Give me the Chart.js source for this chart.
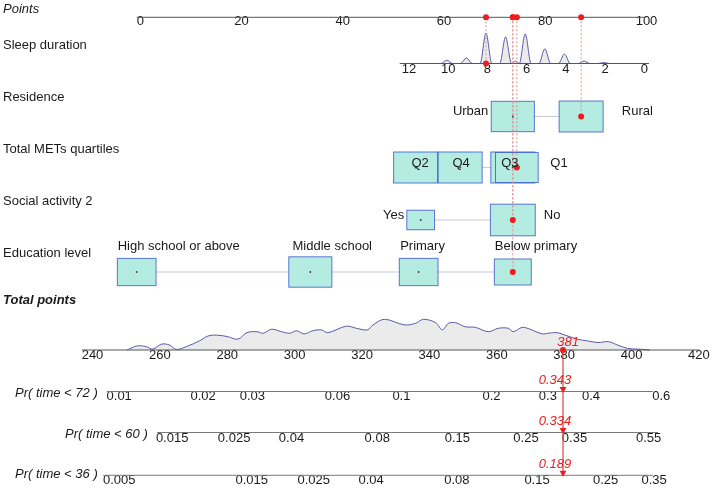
<!DOCTYPE html>
<html>
<head>
<meta charset="utf-8">
<script src="https://cdn.jsdelivr.net/npm/chart.js@4.4.1/dist/chart.umd.min.js"></script>
<style>
html,body{margin:0;padding:0;background:#ffffff;overflow:hidden;}
#wrap{position:relative;width:716px;height:489px;}
</style>
</head>
<body>
<div id="wrap"><canvas id="nomo"></canvas></div>
<script>
// ======================= DATA =======================
const POINT_TICKS = [0, 20, 40, 60, 80, 100];

const SLEEP_TICKS = [12, 10, 8, 6, 4, 2, 0];
const SLEEP_END_HOURS = [12, 0];
const SLEEP_END_POINTS = [53.5, 100];
const SLEEP_DENS_HOURS = [-0.3, 1.7, 2, 2.3, 2.7, 3, 3.3, 3.7, 4, 4.3, 4.7, 5, 5.3, 5.7, 6, 6.3, 6.5, 6.7, 7, 7.3, 7.7, 8, 8.3, 8.7, 9, 9.3, 9.7, 10, 10.3, 12.4];
const SLEEP_DENS_VALUES = [0, 0, 0.03, 0, 0, 0.08, 0, 0, 0.31, 0, 0, 0.48, 0, 0, 0.97, 0, 0.08, 0, 0.87, 0, 0, 1.0, 0, 0, 0.18, 0, 0, 0.11, 0, 0];

const RESIDENCE = ['Urban', 'Rural'];
const RESIDENCE_POINTS = [74.3, 87.8];
const RESIDENCE_SHARE = [0.98, 1.0];

const METS = ['Q2', 'Q4', 'Q3', 'Q1'];
const METS_POINTS = [55.1, 63.9, 74.3, 75.1];
const METS_SHARE = [1.0, 1.0, 1.0, 0.97];

const SOCIAL = ['Yes', 'No'];
const SOCIAL_POINTS = [56.1, 74.3];
const SOCIAL_SHARE = [0.63, 1.02];

const EDUCATION = ['High school or above', 'Middle school', 'Primary', 'Below primary'];
const EDUCATION_POINTS = [0, 34.3, 55.7, 74.3];
const EDUCATION_SHARE = [0.88, 0.98, 0.88, 0.84];

const CASE_SLEEP = 8;
const CASE_RESIDENCE = 'Rural';
const CASE_METS = 'Q1';
const CASE_SOCIAL = 'No';
const CASE_EDUCATION = 'Below primary';

const TOTAL_TICKS = [240, 260, 280, 300, 320, 340, 360, 380, 400, 420];
const TOTAL_DENS_POINTS = [251.6, 254.5, 257.2, 259.2, 261.9, 264.2, 266.2, 269.2, 273.2, 275.6, 278.2, 281.5, 284.5, 287.2, 290.2, 292, 294.5, 297.5, 299.9, 301.9, 304.2, 306.7, 309.2, 311.2, 316.7, 319.7, 323, 324.6, 328, 333.9, 337.2, 339.6, 343.2, 345.2, 347, 349.1, 352, 355, 358.8, 361.8, 364.8, 366.2, 368.9, 371.2, 374.8, 376.6, 379.2, 381.6, 385.2, 388.5, 391.4, 394.4, 397.2, 400.2, 403.2, 406.8];
const TOTAL_DENS_VALUES = [0, 0.13, 0.11, 0.03, 0.19, 0.16, 0.02, 0.11, 0.30, 0.45, 0.48, 0.43, 0.35, 0.56, 0.59, 0.54, 0.67, 0.59, 0.54, 0.62, 0.52, 0.62, 0.65, 0.56, 0.77, 0.70, 0.65, 0.81, 0.99, 0.81, 0.86, 0.99, 0.88, 0.65, 0.86, 0.88, 0.75, 0.73, 0.59, 0.70, 0.70, 0.59, 0.73, 0.67, 0.52, 0.54, 0.56, 0.48, 0.35, 0.29, 0.24, 0.27, 0.16, 0.05, 0.03, 0];
const CASE_TOTAL = 381;

const PR_LABELS = ['Pr( time < 72 )', 'Pr( time < 60 )', 'Pr( time < 36 )'];
const PR72_TICKS = [0.01, 0.02, 0.03, 0.06, 0.1, 0.2, 0.3, 0.4, 0.6];
const PR60_TICKS = [0.015, 0.025, 0.04, 0.08, 0.15, 0.25, 0.35, 0.55];
const PR36_TICKS = [0.005, 0.015, 0.025, 0.04, 0.08, 0.15, 0.25, 0.35];
const CASE_PROBS = [0.343, 0.334, 0.189];
const TOTAL_PER_CLOGLOG = 35.65;

const ROW_LABELS = ['Points', 'Sleep duration', 'Residence', 'Total METs quartiles', 'Social activity 2', 'Education level', 'Total points'];

// ======================= LAYOUT / STYLE =======================
const W = 716, H = 489;
const FONT = '"Liberation Sans", Arial, Helvetica, sans-serif';
const L = {
  ptsPx: [136.7, 642.9],             // pixel of 0 and 100 points
  totAnchor: { v: 240, px: 88.0 }, totPerPoint: 3.369,
  y: { pts: 17.3, sleep: 63.5, residence: 116.5, mets: 167.5, social: 220, education: 272, total: 350, pr: [391.5, 432.5, 475.3] },
  labelY: { pts: 21.5, sleep: 69.5, total: 355.5, pr: [396.7, 438.5, 480] },
  ptsLine: [0, 100.6], sleepLine: [12.38, -0.31], totLine: [238.2, 421.5],
  prLines: [[245.6, 407.7], [260.5, 409.2], [244.5, 407.7]],
  rowLabelPos: [[3, 9], [3, 45], [3, 97], [3, 149], [3, 201], [3, 253], [3, 300]],
  rowLabelFont: ['italic', '', '', '', '', '', 'italic bold'],
  prLabelPos: [[15, 393], [65, 434], [15, 474]],
  box: { w: 44, h: 31, fill: '#b4ece1', stroke: 'rgba(45,75,200,0.75)' },
  catLabels: {
    residence: [['right', -24.5, -5], ['left', 40.7, -5]],
    mets: [['center', 4.5, -4.5], ['center', 1, -4.5], ['center', -3, -4.5], ['left', 33.5, -4.5]],
    social: [['right', -16.5, -5], ['left', 31, -5]],
    education: [['left', -19, -25.5], ['left', -17.8, -25.5], ['left', -18.5, -25.5], ['left', -18, -25.5]]
  },
  red: '#ee1c1c', dotted: '#e39090', axis: '#555555', prAxis: '#7a7a7a',
  densLine: '#5a5aa8', densFill: '#ebebeb', connector: '#c6cbdb', text: '#1a1a1a'
};

// ======================= SCALE HELPERS =======================
function xRange(v1, p1, v2, p2) {
  const k = (p2 - p1) / (v2 - v1);
  if (k > 0) { const min = v1 - p1 / k; return { min, max: min + W / k, reverse: false }; }
  const kk = -k; const max = v1 + p1 / kk; return { min: max - W / kk, max, reverse: true };
}
function yDensRange(basePx, unitPx) { const max = basePx / unitPx; return { min: max - H / unitPx, max }; }
const ptsToPx = v => L.ptsPx[0] + (L.ptsPx[1] - L.ptsPx[0]) * v / 100;
const sleepToPoints = h => SLEEP_END_POINTS[0] + (h - SLEEP_END_HOURS[0]) * (SLEEP_END_POINTS[1] - SLEEP_END_POINTS[0]) / (SLEEP_END_HOURS[1] - SLEEP_END_HOURS[0]);
const cll = p => Math.log(-Math.log(1 - p));
const probToTotal = (p, i) => CASE_TOTAL + TOTAL_PER_CLOGLOG * (cll(p) - cll(CASE_PROBS[i]));

const rPts = xRange(0, L.ptsPx[0], 100, L.ptsPx[1]);
const rSleep = xRange(SLEEP_END_HOURS[0], ptsToPx(SLEEP_END_POINTS[0]), SLEEP_END_HOURS[1], ptsToPx(SLEEP_END_POINTS[1]));
const rTot = xRange(L.totAnchor.v, L.totAnchor.px, L.totAnchor.v + 100, L.totAnchor.px + 100 * L.totPerPoint);
const LH = 13 * 1.2 / 2;

function tickAxis(range, lineY, labelY, values, labels, labelOffset) {
  return {
    type: 'linear', axis: 'x', min: range.min, max: range.max, reverse: range.reverse, bounds: 'data',
    position: { yRow: labelY - LH },
    grid: { display: false, drawTicks: false }, border: { display: false },
    ticks: { padding: 0, autoSkip: false, maxRotation: 0, minRotation: 0, labelOffset: labelOffset,
      color: L.text, font: { family: FONT, size: 13 },
      callback: (v, i) => String(labels[i]) },
    afterBuildTicks: s => { s.ticks = values.map(v => ({ value: v })); }
  };
}

const PR_TICK_SETS = [PR72_TICKS, PR60_TICKS, PR36_TICKS];

const scales = {
  yRow: { type: 'linear', axis: 'y', min: 0, max: H, reverse: true, display: false },
  yDensSleep: Object.assign({ type: 'linear', axis: 'y', display: false }, yDensRange(L.y.sleep, 30.5)),
  yDensTot: Object.assign({ type: 'linear', axis: 'y', display: false }, yDensRange(L.y.total, 31)),
  xPts: tickAxis(rPts, L.y.pts, L.labelY.pts, POINT_TICKS, POINT_TICKS, 3.6),
  xSleep: tickAxis(rSleep, L.y.sleep, L.labelY.sleep, SLEEP_TICKS, SLEEP_TICKS, 1.5),
  xTot: tickAxis(rTot, L.y.total, L.labelY.total, TOTAL_TICKS, TOTAL_TICKS, 4.5)
};
['xPr72', 'xPr60', 'xPr36'].forEach((id, i) => {
  scales[id] = tickAxis(rTot, L.y.pr[i], L.labelY.pr[i], PR_TICK_SETS[i].map(p => probToTotal(p, i)), PR_TICK_SETS[i], 4.5);
});

// ======================= CATEGORY ROWS =======================
const CAT_ROWS = [
  { key: 'residence', names: RESIDENCE, pts: RESIDENCE_POINTS, share: RESIDENCE_SHARE, y: L.y.residence, sel: CASE_RESIDENCE },
  { key: 'mets', names: METS, pts: METS_POINTS, share: METS_SHARE, y: L.y.mets, sel: CASE_METS },
  { key: 'social', names: SOCIAL, pts: SOCIAL_POINTS, share: SOCIAL_SHARE, y: L.y.social, sel: CASE_SOCIAL },
  { key: 'education', names: EDUCATION, pts: EDUCATION_POINTS, share: EDUCATION_SHARE, y: L.y.education, sel: CASE_EDUCATION }
];

// ======================= DATASETS =======================
const datasets = [];
function lineDs(xAxisID, pts, color, extra) {
  return Object.assign({ type: 'line', xAxisID, yAxisID: 'yRow', data: pts, borderColor: color, borderWidth: 1,
    pointRadius: 0, fill: false, tension: 0, order: 40 }, extra || {});
}
// densities
datasets.push({ type: 'line', xAxisID: 'xSleep', yAxisID: 'yDensSleep',
  data: SLEEP_DENS_HOURS.map((h, i) => ({ x: h, y: SLEEP_DENS_VALUES[i] })),
  borderColor: L.densLine, borderWidth: 1, backgroundColor: L.densFill, fill: 'origin',
  cubicInterpolationMode: 'monotone', pointRadius: 0, order: 50 });
datasets.push({ type: 'line', xAxisID: 'xTot', yAxisID: 'yDensTot',
  data: TOTAL_DENS_POINTS.map((t, i) => ({ x: t, y: TOTAL_DENS_VALUES[i] })),
  borderColor: L.densLine, borderWidth: 1, backgroundColor: L.densFill, fill: 'origin',
  tension: 0.35, pointRadius: 0, order: 50 });
// axis lines
datasets.push(lineDs('xPts', L.ptsLine.map(v => ({ x: v, y: L.y.pts })), L.axis));
datasets.push(lineDs('xSleep', L.sleepLine.map(v => ({ x: v, y: L.y.sleep })), L.axis));
datasets.push(lineDs('xTot', L.totLine.map(v => ({ x: v, y: L.y.total })), L.axis));
L.prLines.forEach((r, i) => datasets.push(lineDs('xTot', r.map(v => ({ x: v, y: L.y.pr[i] })), L.prAxis)));
// connectors
CAT_ROWS.forEach(r => datasets.push(lineDs('xPts',
  [{ x: Math.min(...r.pts), y: r.y }, { x: Math.max(...r.pts), y: r.y }], L.connector, { order: 30 })));
// box layer marker
datasets.push({ type: 'scatter', xAxisID: 'xPts', yAxisID: 'yRow', data: [], boxLayer: true, order: 25 });
// dotted guides from the points axis
const casePoints = [sleepToPoints(CASE_SLEEP)].concat(CAT_ROWS.map(r => r.pts[r.names.indexOf(r.sel)]));
const caseRowsY = [L.y.sleep].concat(CAT_ROWS.map(r => r.y));
casePoints.forEach((p, i) => datasets.push(lineDs('xPts', [{ x: p, y: L.y.pts }, { x: p, y: caseRowsY[i] }], L.dotted,
  { borderDash: [2, 2], order: 20 })));
// red vertical line from total points to last probability axis
datasets.push(lineDs('xTot', [{ x: CASE_TOTAL, y: L.y.total }, { x: CASE_TOTAL, y: L.y.pr[2] }], 'rgba(215,80,80,0.85)',
  { borderWidth: 1.5, order: 15 }));
// small center dots of non-selected boxes
const smallDots = [];
CAT_ROWS.forEach(r => r.names.forEach((n, i) => { if (n !== r.sel) smallDots.push({ x: r.pts[i], y: r.y }); }));
datasets.push({ type: 'scatter', xAxisID: 'xPts', yAxisID: 'yRow', data: smallDots, pointRadius: 1,
  backgroundColor: '#444', borderWidth: 0, order: 10 });
// red dots
const redOnRows = CAT_ROWS.map(r => ({ x: r.pts[r.names.indexOf(r.sel)], y: r.y }));
const redOnAxis = casePoints.map(p => ({ x: p, y: L.y.pts }));
datasets.push({ type: 'scatter', xAxisID: 'xPts', yAxisID: 'yRow', data: redOnAxis.concat(redOnRows),
  pointRadius: 3, backgroundColor: L.red, borderWidth: 0, order: 5 });
datasets.push({ type: 'scatter', xAxisID: 'xSleep', yAxisID: 'yRow', data: [{ x: CASE_SLEEP, y: L.y.sleep }],
  pointRadius: 3, backgroundColor: L.red, borderWidth: 0, order: 5 });
datasets.push({ type: 'scatter', xAxisID: 'xTot', yAxisID: 'yRow', data: [{ x: CASE_TOTAL, y: L.y.total }],
  pointRadius: 3, backgroundColor: L.red, borderWidth: 0, order: 5 });
// arrows
datasets.push({ type: 'scatter', xAxisID: 'xTot', yAxisID: 'yRow',
  data: L.y.pr.map(y => ({ x: CASE_TOTAL, y: y - 2.5 })),
  pointStyle: 'triangle', rotation: 180, pointRadius: 4, backgroundColor: L.red, borderWidth: 0, order: 5 });

// ======================= PLUGIN (boxes + text) =======================
function text(ctx, s, x, y, align, style, color) {
  ctx.save();
  ctx.font = (style ? style + ' ' : '') + '13px ' + FONT;
  ctx.fillStyle = color || L.text;
  ctx.textAlign = align || 'left';
  ctx.textBaseline = 'middle';
  ctx.fillText(s, x, y);
  ctx.restore();
}
const nomoPlugin = {
  id: 'nomo',
  afterDatasetDraw(chart, args) {
    const ds = chart.data.datasets[args.index];
    if (!ds.boxLayer) return;
    const ctx = chart.ctx, xs = chart.scales.xPts, ys = chart.scales.yRow;
    ctx.save();
    CAT_ROWS.forEach(r => r.names.forEach((n, i) => {
      const cx = xs.getPixelForValue(r.pts[i]), cy = ys.getPixelForValue(r.y);
      const w = L.box.w * r.share[i], h = L.box.h * r.share[i];
      ctx.fillStyle = L.box.fill;
      ctx.fillRect(cx - w / 2, cy - h / 2, w, h);
      ctx.strokeStyle = L.box.stroke; ctx.lineWidth = 1;
      ctx.strokeRect(cx - w / 2, cy - h / 2, w, h);
    }));
    ctx.restore();
  },
  afterDatasetsDraw(chart) {
    const ctx = chart.ctx, xs = chart.scales.xPts, ys = chart.scales.yRow, xt = chart.scales.xTot;
    ROW_LABELS.forEach((t, i) => text(ctx, t, L.rowLabelPos[i][0], L.rowLabelPos[i][1], 'left', L.rowLabelFont[i]));
    PR_LABELS.forEach((t, i) => text(ctx, t, L.prLabelPos[i][0], L.prLabelPos[i][1], 'left', 'italic'));
    CAT_ROWS.forEach(r => r.names.forEach((n, i) => {
      const pl = L.catLabels[r.key][i];
      text(ctx, n, xs.getPixelForValue(r.pts[i]) + pl[1], ys.getPixelForValue(r.y) + pl[2], pl[0]);
    }));
    const mx = xt.getPixelForValue(CASE_TOTAL);
    text(ctx, String(CASE_TOTAL), mx + 5, ys.getPixelForValue(L.y.total - 8), 'center', 'italic', L.red);
    CASE_PROBS.forEach((p, i) => text(ctx, p.toFixed(3), mx - 8, ys.getPixelForValue(L.y.pr[i] - 11), 'center', 'italic', L.red));
  }
};

Chart.defaults.font.family = FONT;
Chart.defaults.font.size = 13;
Chart.defaults.color = L.text;

new Chart(document.getElementById('nomo'), {
  type: 'scatter',
  data: { datasets },
  options: {
    responsive: true, maintainAspectRatio: false, animation: false, devicePixelRatio: 1,
    layout: { padding: 0, autoPadding: false },
    plugins: { legend: { display: false }, tooltip: { enabled: false } },
    events: [],
    scales
  },
  plugins: [nomoPlugin]
});
</script>
</body>
</html>
